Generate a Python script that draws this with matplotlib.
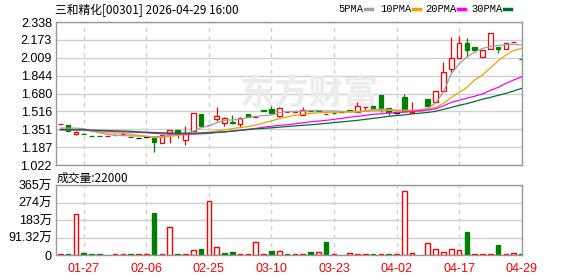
import matplotlib
matplotlib.use("Agg")
import matplotlib.pyplot as plt
from matplotlib.lines import Line2D

plt.rcParams["font.family"] = ["Liberation Sans", "Noto Sans CJK SC"]

# ---- data ----
dates = ["01-22", "01-23", "01-26", "01-27", "01-28", "01-29", "01-30", "02-02",
         "02-03", "02-04", "02-05", "02-06", "02-09", "02-10", "02-11", "02-12",
         "02-13", "02-20", "02-24", "02-25", "02-26", "02-27", "03-02", "03-03",
         "03-04", "03-05", "03-06", "03-10", "03-11", "03-12", "03-13", "03-16",
         "03-17", "03-18", "03-19", "03-23", "03-24", "03-25", "03-26", "03-27",
         "03-30", "03-31", "04-01", "04-02", "04-08", "04-09", "04-10", "04-13",
         "04-14", "04-15", "04-16", "04-17", "04-20", "04-21", "04-22", "04-23",
         "04-24", "04-27", "04-28", "04-29"]

opens = [1.399, 1.391, 1.306, 1.307, 1.290, 1.290, 1.286, 1.295, 1.307, 1.283,
         1.269, 1.283, 1.275, 1.229, 1.314, 1.346, 1.254, 1.336, 1.493, 1.389,
         1.444, 1.407, 1.422, 1.401, 1.493, 1.463, 1.524, 1.536, 1.474, 1.509,
         1.514, 1.485, 1.522, 1.524, 1.490, 1.503, 1.511, 1.524, 1.514, 1.558,
         1.569, 1.667, 1.545, 1.505, 1.652, 1.503, 1.525, 1.628, 1.606, 1.704,
         1.906, 2.005, 2.145, 2.106, 2.014, 2.090, 2.108, 2.088, 2.154, 2.000]
highs = [1.401, 1.391, 1.336, 1.318, 1.290, 1.290, 1.288, 1.295, 1.309, 1.283,
         1.269, 1.283, 1.275, 1.300, 1.346, 1.346, 1.382, 1.499, 1.493, 1.392,
         1.557, 1.468, 1.483, 1.468, 1.493, 1.466, 1.524, 1.566, 1.560, 1.511,
         1.516, 1.557, 1.522, 1.524, 1.493, 1.503, 1.511, 1.524, 1.606, 1.560,
         1.569, 1.667, 1.545, 1.505, 1.674, 1.606, 1.525, 1.628, 1.701, 1.968,
         2.196, 2.207, 2.194, 2.106, 2.081, 2.237, 2.108, 2.142, 2.157, 2.004]
lows = [1.398, 1.336, 1.300, 1.305, 1.288, 1.288, 1.286, 1.295, 1.307, 1.281,
        1.269, 1.283, 1.141, 1.229, 1.223, 1.275, 1.208, 1.336, 1.385, 1.389,
        1.431, 1.385, 1.400, 1.376, 1.460, 1.463, 1.522, 1.499, 1.468, 1.509,
        1.514, 1.478, 1.520, 1.522, 1.490, 1.501, 1.511, 1.522, 1.514, 1.530,
        1.545, 1.514, 1.483, 1.505, 1.523, 1.499, 1.525, 1.569, 1.606, 1.704,
        1.881, 2.005, 2.012, 2.062, 2.014, 2.090, 2.053, 2.088, 2.154, 1.994]
closes = [1.401, 1.338, 1.330, 1.305, 1.288, 1.288, 1.288, 1.295, 1.309, 1.281,
          1.269, 1.283, 1.233, 1.300, 1.346, 1.316, 1.306, 1.499, 1.385, 1.392,
          1.474, 1.453, 1.404, 1.456, 1.460, 1.466, 1.522, 1.499, 1.550, 1.511,
          1.516, 1.528, 1.520, 1.522, 1.493, 1.501, 1.511, 1.522, 1.566, 1.560,
          1.545, 1.545, 1.514, 1.505, 1.523, 1.506, 1.525, 1.569, 1.701, 1.879,
          2.007, 2.145, 2.076, 2.081, 2.081, 2.237, 2.085, 2.142, 2.157, 1.998]

# volume in 万 (10k shares); 1 = red (up) bar, -1 = green (down) bar
volumes = [3, 3, 212, 10, 3, 3, 0, 3, 3, 3, 3, 3, 221, 3, 145, 3, 3, 24, 31, 282,
           40, 10, 14, 3, 3, 66, 3, 21, 19, 3, 3, 3, 17, 15, 69, 3, 0, 10, 3, 3,
           3, 3, 3, 3, 334, 10, 0, 63, 30, 16, 30, 25, 120, 3, 3, 3, 52, 3, 10, 5]
vol_dir = [1, -1, 1, -1, -1, -1, 1, 1, 1, -1, 1, 1, -1, 1, 1, -1, 1, 1, -1, 1,
           1, -1, -1, 1, 1, 1, 1, -1, 1, -1, 1, 1, -1, 1, -1, 1, 1, 1, 1, 1,
           -1, 1, -1, 1, 1, 1, 1, 1, 1, 1, 1, 1, -1, 1, 1, 1, -1, 1, 1, -1]

ma5 = [1.361, 1.361, 1.361, 1.357, 1.336, 1.318, 1.304, 1.295, 1.293, 1.290,
       1.288, 1.284, 1.283, 1.284, 1.295, 1.306, 1.306, 1.332, 1.364, 1.382,
       1.410, 1.433, 1.437, 1.442, 1.460, 1.470, 1.477, 1.483, 1.502, 1.514,
       1.514, 1.517, 1.523, 1.523, 1.520, 1.520, 1.516, 1.511, 1.511, 1.520,
       1.534, 1.536, 1.534, 1.525, 1.520, 1.520, 1.525, 1.545, 1.590, 1.695,
       1.860, 1.952, 2.016, 2.062, 2.095, 2.113, 2.122, 2.129, 2.131, 2.127]
ma10 = [1.346, 1.346, 1.346, 1.346, 1.336, 1.327, 1.318, 1.315, 1.313, 1.304,
        1.295, 1.286, 1.277, 1.275, 1.286, 1.295, 1.304, 1.309, 1.318, 1.324,
        1.336, 1.346, 1.357, 1.366, 1.375, 1.389, 1.410, 1.428, 1.447, 1.465,
        1.479, 1.488, 1.497, 1.502, 1.506, 1.508, 1.508, 1.511, 1.514, 1.516,
        1.520, 1.523, 1.525, 1.525, 1.527, 1.527, 1.529, 1.536, 1.552, 1.589,
        1.644, 1.690, 1.736, 1.805, 1.851, 1.915, 1.980, 2.035, 2.076, 2.095]
ma20 = [1.348, 1.348, 1.347, 1.346, 1.338, 1.336, 1.334, 1.330, 1.327, 1.324,
        1.323, 1.318, 1.313, 1.309, 1.306, 1.306, 1.306, 1.306, 1.309, 1.313,
        1.321, 1.327, 1.334, 1.341, 1.350, 1.359, 1.370, 1.378, 1.387, 1.392,
        1.401, 1.410, 1.419, 1.426, 1.433, 1.442, 1.451, 1.462, 1.470, 1.479,
        1.488, 1.493, 1.500, 1.505, 1.508, 1.514, 1.520, 1.528, 1.539, 1.566,
        1.598, 1.617, 1.637, 1.655, 1.676, 1.709, 1.736, 1.773, 1.805, 1.833]
ma30 = [1.346, 1.346, 1.346, 1.346, 1.343, 1.341, 1.339, 1.336, 1.335, 1.332,
        1.327, 1.324, 1.321, 1.318, 1.316, 1.315, 1.315, 1.315, 1.316, 1.318,
        1.323, 1.327, 1.334, 1.341, 1.348, 1.355, 1.359, 1.364, 1.370, 1.376,
        1.382, 1.387, 1.392, 1.398, 1.405, 1.413, 1.419, 1.426, 1.433, 1.442,
        1.451, 1.460, 1.470, 1.477, 1.483, 1.493, 1.499, 1.506, 1.516, 1.534,
        1.552, 1.571, 1.587, 1.607, 1.628, 1.644, 1.663, 1.681, 1.704, 1.727]

price_ticks = [1.022, 1.1865, 1.351, 1.5155, 1.680, 1.8445, 2.009, 2.1735, 2.338]
price_labels = ["1.022", "1.187", "1.351", "1.516", "1.680", "1.844", "2.009", "2.173", "2.338"]
vol_ticks = [0, 91.32, 182.64, 273.96, 365.28]
vol_labels = ["0", "91.32万", "183万", "274万", "365万"]
date_labels = ["01-27", "02-06", "02-25", "03-10", "03-23", "04-02", "04-17", "04-29"]

title = "三和精化[00301] 2026-04-29 16:00"
vol_title = "成交量:22000"
ma_names = ["5PMA", "10PMA", "20PMA", "30PMA"]

# ---- styling ----
RED = "#ff0000"
GREEN = "#008000"
MA_COLORS = ["#a0a0a0", "#f0a000", "#ff00ff", "#00702e"]
GRID = "#d0d0d0"
FRAME = "#999999"

W, H = 578, 276


def fx(px):
    return px / W


def fy(py):
    return 1 - py / H


fig = plt.figure(figsize=(W / 100, H / 100), dpi=100)
ax = fig.add_axes([fx(56), fy(165), fx(522) - fx(56), fy(22) - fy(165)])
axv = fig.add_axes([fx(56), fy(255), fx(522) - fx(56), fy(185) - fy(255)])

n = len(closes)
xs = list(range(n))
tick_pos = [dates.index(d) for d in date_labels]
bw = 0.6

# candles
for i in xs:
    o, h, l, c = opens[i], highs[i], lows[i], closes[i]
    top, bot = max(o, c), min(o, c)
    if c > o:
        ax.vlines(i, top, h, color=RED, lw=0.9, zorder=2)
        ax.vlines(i, l, bot, color=RED, lw=0.9, zorder=2)
        ax.bar(i, top - bot, bw, bottom=bot, facecolor="white", edgecolor=RED, lw=0.9, zorder=2)
    else:
        col = GREEN if c < o else "#000000"
        ax.vlines(i, l, h, color=col, lw=0.9, zorder=2)
        ax.bar(i, max(top - bot, 0.002), bw, bottom=bot, color=col, edgecolor=col, lw=0.9, zorder=2)

for ma, col in zip([ma5, ma10, ma20, ma30], MA_COLORS):
    ax.plot(xs, ma, color=col, lw=0.9, zorder=3)

# volume bars
for i in xs:
    if volumes[i] <= 0:
        continue
    if vol_dir[i] > 0:
        axv.bar(i, volumes[i], bw, facecolor="white", edgecolor=RED, lw=1.0, zorder=2)
    else:
        axv.bar(i, volumes[i], bw, color=GREEN, edgecolor=GREEN, lw=1.0, zorder=2)

for a in (ax, axv):
    a.set_xlim(-0.55, n - 0.95)
    a.set_xticks(tick_pos)
    a.grid(axis="y", color=GRID, lw=1, zorder=0)
    a.grid(axis="x", color=GRID, lw=1, ls=(0, (3, 3)), zorder=0)
    a.set_axisbelow(True)
    a.tick_params(length=0, labelsize=9, pad=3)
    for s in a.spines.values():
        s.set_color(FRAME)
        s.set_linewidth(1)

ax.set_ylim(price_ticks[0], price_ticks[-1])
ax.set_yticks(price_ticks)
ax.set_yticklabels(price_labels)
ax.set_xticklabels([])

axv.set_ylim(vol_ticks[0], vol_ticks[-1])
axv.set_yticks(vol_ticks)
axv.set_yticklabels(vol_labels)
axv.set_xticklabels(date_labels, color=RED)
axv.tick_params(axis="x", pad=6)

# watermark
ax.text(fx(309), fy(93), "东方财富", transform=fig.transFigure, ha="center", va="center",
        fontsize=25, fontweight="bold", color="#ececec", family=["Noto Sans CJK SC"], zorder=1)

# header texts
fig.text(fx(55), fy(10), title, ha="left", va="center", fontsize=8.5,
         family=["Noto Sans CJK SC"])
fig.text(fx(57), fy(178), vol_title, ha="left", va="center", fontsize=8.5,
         family=["Noto Sans CJK SC"])

# legend: label followed by a short coloured dash
leg_x = [338, 380, 425, 471]
dash_x = [365, 413, 458, 504]
for name, col, lx, dx in zip(ma_names, MA_COLORS, leg_x, dash_x):
    fig.text(fx(lx), fy(9), name, ha="left", va="center", fontsize=7.5,
             family=["Liberation Mono"])
    fig.add_artist(Line2D([fx(dx), fx(dx + 7)], [fy(9), fy(9)], color=col, lw=2.5))

fig.savefig("out.png", dpi=100)
